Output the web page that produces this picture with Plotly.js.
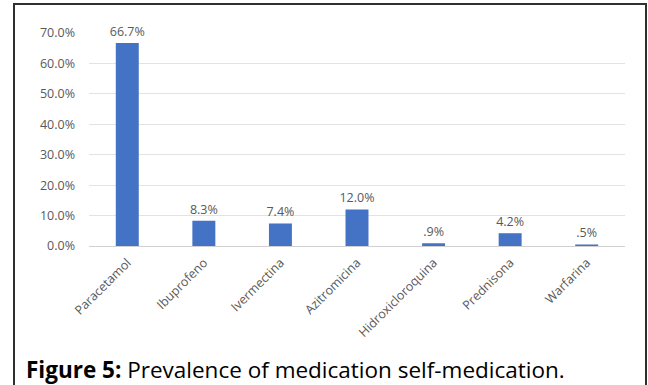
<!DOCTYPE html>
<html>
<head>
<meta charset="utf-8">
<script src="https://cdn.plot.ly/plotly-3.0.1.min.js"></script>
<style>
html,body{margin:0;padding:0;background:#fff;}
#wrap{position:relative;width:648px;height:385px;overflow:hidden;}
#chart{width:648px;height:385px;}
#frame{position:absolute;left:13px;top:3px;width:634px;height:400px;border:2px solid #303030;box-sizing:border-box;pointer-events:none;}
</style>
</head>
<body>
<div id="wrap">
<div id="chart"></div>
<div id="frame"></div>
</div>
<script>
var categories = ["Paracetamol","Ibuprofeno","Ivermectina","Azitromicina","Hidroxicloroquina","Prednisona","Warfarina"];
var values = [66.7, 8.3, 7.4, 12.0, 0.9, 4.2, 0.5];
var valueLabels = ["66.7%","8.3%","7.4%","12.0%",".9%","4.2%",".5%"];
var yTickVals = [0,10,20,30,40,50,60,70];
var yTickText = ["0.0%","10.0%","20.0%","30.0%","40.0%","50.0%","60.0%","70.0%"];
var captionBold = "Figure 5:";
var captionText = " Prevalence of medication self-medication.";

var gray = "#595959";
var trace = {
  type: "bar",
  x: categories,
  y: values,
  text: valueLabels,
  textposition: "outside",
  constraintext: "none",
  cliponaxis: false,
  textfont: {family: "Open Sans", size: 12.5, color: gray},
  marker: {color: "#4472c4"},
  hoverinfo: "none"
};
var layout = {
  width: 648, height: 385,
  margin: {l: 89, r: 23, t: 33, b: 139},
  paper_bgcolor: "#fff", plot_bgcolor: "#fff",
  bargap: 0.7,
  showlegend: false,
  font: {family: "Open Sans", color: gray},
  xaxis: {
    type: "category",
    tickangle: -45,
    tickfont: {family: "Open Sans", size: 12.5, color: gray},
    ticklabelstandoff: 6,
    showgrid: false,
    showline: false,
    ticks: "",
    fixedrange: true
  },
  yaxis: {
    range: [0, 70],
    tickvals: yTickVals,
    ticktext: yTickText,
    tickfont: {family: "Open Sans", size: 12.5, color: gray},
    ticklabelstandoff: 13,
    showgrid: true,
    gridcolor: "#e3e3e3",
    gridwidth: 1,
    zeroline: true,
    zerolinecolor: "#d0d0d0",
    zerolinewidth: 1,
    showline: false,
    ticks: "",
    automargin: false,
    fixedrange: true
  },
  annotations: [{
    xref: "paper", yref: "paper",
    x: (24 - 89) / 536,
    y: (246 - 369) / 213,
    xanchor: "left", yanchor: "middle",
    showarrow: false,
    text: "<b>" + captionBold + "</b>" + captionText,
    font: {family: "Open Sans", size: 22.5, color: "#000"}
  }]
};
Plotly.newPlot("chart", [trace], layout, {displayModeBar: false, staticPlot: true});
</script>
</body>
</html>
